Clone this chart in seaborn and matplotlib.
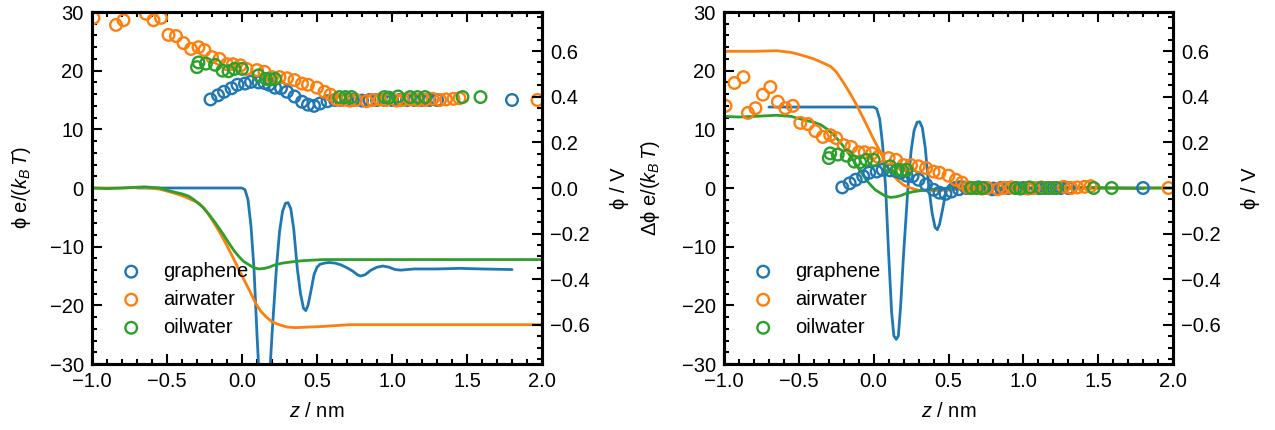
import numpy as np
import pandas as pd
import matplotlib
matplotlib.use("Agg")
import matplotlib.pyplot as plt
from matplotlib.ticker import MultipleLocator
import seaborn as sns

# ---------------- data ----------------
names = ["graphene", "airwater", "oilwater"]
colors = ["#1f77b4", "#ff7f0e", "#2ca02c"]

# symbols: Delta phi e/(kBT) relative to bulk (right panel); left panel = value + bulk offset
z_pts_graphene = [-0.21, -0.16, -0.12, -0.07, -0.03, 0.02, 0.06, 0.11, 0.15, 0.18, 0.22, 0.26, 0.30,
                  0.35, 0.40, 0.44, 0.48, 0.52, 0.57, 0.62, 0.66, 0.70, 0.74, 0.80, 0.85, 0.90, 0.95,
                  1.00, 1.05, 1.10, 1.15, 1.20, 1.25, 1.30, 1.80]
d_pts_graphene = [0.1, 0.8, 1.4, 2.0, 2.6, 2.8, 3.1, 3.0, 2.9, 2.6, 2.1, 2.0, 1.4,
                  0.6, -0.3, -0.8, -1.0, -0.6, -0.2, 0.0, 0.0, 0.1, 0.0, -0.1, 0.0, 0.0, 0.0,
                  0.0, 0.0, 0.0, 0.0, 0.0, 0.0, 0.0, 0.0]
z_pts_airwater = [-0.99, -0.93, -0.87, -0.84, -0.79, -0.74, -0.69, -0.64, -0.59, -0.54, -0.49, -0.44,
                  -0.39, -0.34, -0.29, -0.25, -0.20, -0.15, -0.10, -0.06, -0.01, 0.03, 0.10, 0.15,
                  0.20, 0.25, 0.30, 0.35, 0.40, 0.44, 0.50, 0.55, 0.59, 0.63, 0.67, 0.72, 0.76,
                  0.83, 0.87, 0.92, 0.96, 1.03, 1.07, 1.12, 1.17, 1.22, 1.27, 1.32, 1.36, 1.41,
                  1.45, 1.97]
d_pts_airwater = [14.0, 17.9, 18.9, 12.8, 13.6, 15.9, 17.2, 14.7, 13.6, 14.0, 11.1, 10.9,
                  9.7, 8.7, 9.0, 8.5, 7.3, 7.0, 6.1, 6.1, 5.9, 5.3, 5.1, 4.8,
                  3.9, 3.9, 3.7, 3.4, 2.8, 2.6, 2.1, 1.4, 0.9, 0.1, 0.0, -0.1, 0.0,
                  -0.2, 0.0, 0.1, 0.0, -0.1, 0.0, 0.1, 0.0, 0.0, 0.2, 0.0, 0.1, 0.2,
                  0.3, 0.0]
z_pts_oilwater = [-0.30, -0.29, -0.24, -0.18, -0.13, -0.09, -0.05, 0.00, 0.11, 0.16, 0.19, 0.22,
                  0.65, 0.69, 0.73, 0.95, 0.98, 1.04, 1.12, 1.17, 1.22, 1.47, 1.59]
d_pts_oilwater = [5.1, 5.9, 5.7, 5.5, 4.5, 4.4, 4.8, 4.8, 3.7, 3.1, 3.0, 3.1,
                  0.0, 0.0, 0.0, 0.0, -0.1, 0.1, 0.0, 0.0, 0.0, 0.0, 0.0]
pts_offset = [15.0, 15.0, 15.5]

# lines: phi e/(kBT) (left panel); right panel = value - bulk
z_line_graphene = [-0.70, 0.0, 0.02, 0.04, 0.06, 0.08, 0.10, 0.12, 0.135, 0.151, 0.165, 0.18, 0.20,
                   0.229, 0.25, 0.27, 0.29, 0.307, 0.325, 0.345, 0.369, 0.39, 0.41, 0.425, 0.44,
                   0.46, 0.48, 0.50, 0.52, 0.55, 0.58, 0.62, 0.66, 0.70, 0.74, 0.77, 0.79, 0.82,
                   0.86, 0.90, 0.94, 0.98, 1.02, 1.06, 1.10, 1.15, 1.3, 1.45, 1.6, 1.8]
p_line_graphene = [0.0, 0.0, -0.3, -2.0, -6.5, -13.8, -25.0, -35.0, -39.0, -39.6, -39.0, -34.0, -25.0,
                   -13.8, -7.5, -4.0, -2.6, -2.5, -3.5, -7.0, -13.8, -18.0, -20.5, -20.9, -20.0,
                   -17.5, -14.8, -13.5, -13.0, -12.8, -12.7, -12.8, -13.1, -13.6, -14.2, -14.8, -15.0,
                   -14.8, -14.0, -13.5, -13.3, -13.5, -13.9, -14.0, -13.9, -13.8, -13.8, -13.7, -13.8, -13.9]
z_line_airwater = [-1.0, -0.8, -0.65, -0.55, -0.51, -0.45, -0.40, -0.354, -0.32, -0.287, -0.25, -0.20,
                   -0.15, -0.109, -0.075, -0.042, -0.01, 0.025, 0.06, 0.09, 0.125, 0.158, 0.20, 0.247,
                   0.30, 0.358, 0.45, 0.54, 0.715, 1.0, 1.5, 2.0]
p_line_airwater = [0.0, 0.0, 0.1, -0.2, -0.45, -0.9, -1.3, -1.8, -2.2, -2.6, -3.5, -5.4,
                   -7.5, -9.4, -11.1, -12.8, -14.5, -16.2, -18.0, -19.6, -21.0, -21.9, -22.8, -23.3,
                   -23.7, -23.8, -23.7, -23.6, -23.3, -23.3, -23.3, -23.3]
z_line_oilwater = [-1.0, -0.9, -0.8, -0.65, -0.55, -0.51, -0.45, -0.40, -0.354, -0.31, -0.265, -0.22,
                   -0.176, -0.13, -0.087, -0.05, -0.02, 0.01, 0.047, 0.08, 0.114, 0.15, 0.18, 0.22,
                   0.27, 0.33, 0.40, 0.54, 0.8, 1.2, 2.0]
p_line_oilwater = [0.0, -0.1, 0.0, 0.2, 0.0, -0.3, -0.7, -1.0, -1.4, -2.2, -3.2, -4.5,
                   -6.0, -7.7, -9.4, -10.8, -11.7, -12.5, -13.1, -13.6, -13.8, -13.7, -13.5, -13.1,
                   -12.8, -12.6, -12.4, -12.2, -12.2, -12.2, -12.2]
line_bulk = [-13.8, -23.3, -12.2]

kT_per_V = 38.92  # e/(kB T) at 298 K in 1/V

z_pts = [z_pts_graphene, z_pts_airwater, z_pts_oilwater]
d_pts = [d_pts_graphene, d_pts_airwater, d_pts_oilwater]
z_lines = [z_line_graphene, z_line_airwater, z_line_oilwater]
p_lines = [p_line_graphene, p_line_airwater, p_line_oilwater]

# ---------------- style ----------------
sns.set_theme(style="ticks")
plt.rcParams["font.family"] = ["Liberation Sans", "DejaVu Sans"]
plt.rcParams["mathtext.fontset"] = "custom"
plt.rcParams["mathtext.rm"] = "Liberation Sans"
plt.rcParams["mathtext.it"] = "Liberation Sans:italic"
plt.rcParams["axes.unicode_minus"] = True
for key in ["axes.edgecolor", "xtick.color", "ytick.color", "text.color", "axes.labelcolor"]:
    plt.rcParams[key] = "black"
FS = 14.5

fig = plt.figure(figsize=(12.75, 4.3), dpi=100)
axL = fig.add_axes([92 / 1275, 66 / 430, 450 / 1275, 352 / 430])
axR = fig.add_axes([724 / 1275, 66 / 430, 449 / 1275, 352 / 430])


def style_axes(ax, twin):
    ax.set_xlim(-1.0, 2.0)
    ax.set_ylim(-30, 30)
    ax.xaxis.set_major_locator(MultipleLocator(0.5))
    ax.xaxis.set_minor_locator(MultipleLocator(0.1))
    ax.yaxis.set_major_locator(MultipleLocator(10))
    ax.yaxis.set_minor_locator(MultipleLocator(2))
    ax.tick_params(which="both", direction="in", top=True, right=False, labelsize=FS, width=1.5)
    ax.tick_params(which="major", length=7, pad=6)
    ax.tick_params(which="minor", length=3.5)
    for s in ax.spines.values():
        s.set_linewidth(2.2)
        s.set_visible(True)
    twin.set_ylim(-30 / kT_per_V, 30 / kT_per_V)
    twin.yaxis.set_major_locator(MultipleLocator(0.2))
    twin.yaxis.set_minor_locator(MultipleLocator(0.05))
    twin.tick_params(which="both", direction="in", labelsize=FS, width=1.5)
    twin.tick_params(which="major", length=7, pad=6)
    twin.tick_params(which="minor", length=3.5)
    for s in twin.spines.values():
        s.set_linewidth(2.2)
    twin.set_ylabel(r"ϕ / V", fontsize=FS, labelpad=14)
    ax.set_xlabel(r"$z$ / nm", fontsize=FS, labelpad=8)


# ---------------- left panel ----------------
twL = axL.twinx()
for i, n in enumerate(names):
    dfp = pd.DataFrame({"z": z_pts[i], "phi": np.array(d_pts[i]) + pts_offset[i]})
    sns.scatterplot(data=dfp, x="z", y="phi", ax=axL, color=colors[i], facecolor="none",
                    edgecolor=colors[i], linewidth=1.7, s=70, marker="o", label=n, zorder=3)
for i, n in enumerate(names):
    dfl = pd.DataFrame({"z": z_lines[i], "phi": p_lines[i]})
    sns.lineplot(data=dfl, x="z", y="phi", ax=axL, color=colors[i], linewidth=2.0,
                 sort=False, estimator=None, legend=False, zorder=2)
style_axes(axL, twL)
axL.set_ylabel(r"ϕ e/($k_B\,T$)", fontsize=FS, labelpad=12)

# ---------------- right panel ----------------
twR = axR.twinx()
for i, n in enumerate(names):
    dfp = pd.DataFrame({"z": z_pts[i], "dphi": d_pts[i]})
    sns.scatterplot(data=dfp, x="z", y="dphi", ax=axR, color=colors[i], facecolor="none",
                    edgecolor=colors[i], linewidth=1.7, s=70, marker="o", label=n, zorder=3)
for i, n in enumerate(names):
    dfl = pd.DataFrame({"z": z_lines[i], "dphi": np.array(p_lines[i]) - line_bulk[i]})
    sns.lineplot(data=dfl, x="z", y="dphi", ax=axR, color=colors[i], linewidth=2.0,
                 sort=False, estimator=None, legend=False, zorder=2)
style_axes(axR, twR)
axR.set_ylabel(r"Δϕ e/($k_B\,T$)", fontsize=FS, labelpad=14)

for ax in (axL, axR):
    h, l = ax.get_legend_handles_labels()
    ax.legend(h[:3], l[:3], loc="lower left", bbox_to_anchor=(0.02, 0.025), frameon=False,
              fontsize=FS, handletextpad=1.0, labelspacing=0.45, handlelength=1.2)

fig.savefig("out.png", dpi=100)
